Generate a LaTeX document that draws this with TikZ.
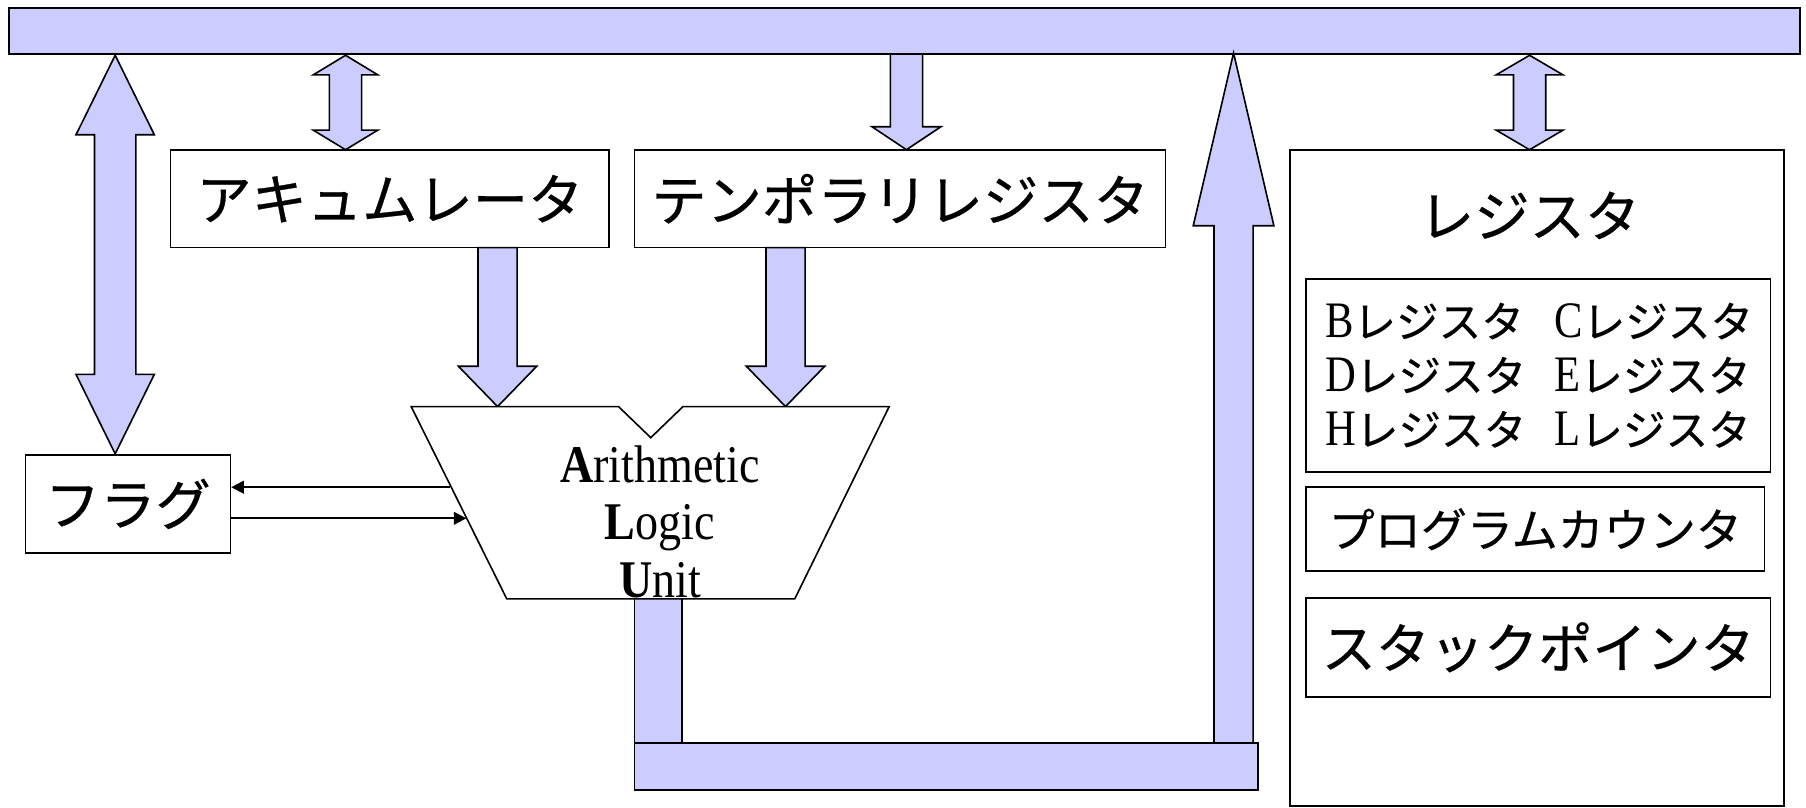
\documentclass[tikz,border=0pt]{standalone}
\usepackage{fontspec}
\usepackage{graphicx}
\newfontfamily\jp{Noto Sans CJK JP}[FakeBold=0.5]
\newfontfamily\tm{Liberation Serif}
\usetikzlibrary{fit,arrows.meta}
\definecolor{busblue}{HTML}{CCCCFF}
\tikzset{
  busfill/.style={fill=busblue, draw=black, line width=0.7pt, line join=miter},
  box/.style={draw=black, line width=0.7pt, fill=white, inner sep=0pt},
  thinarrow/.style={line width=0.8pt, -{Triangle[length=5.5pt,width=5.5pt]}},
  bigjp/.style={font=\jp\fontsize{24}{29}\selectfont, inner sep=0pt},
  midjp/.style={font=\jp\fontsize{20}{24}\selectfont, inner sep=0pt},
  regrow/.style={font=\fontsize{18.5}{22}\selectfont, inner sep=0pt, anchor=base west},
}
% double-headed vertical block arrow: centre x, top, bottom, shaft half, head half, head length
\newcommand{\dblarrow}[6]{%
  \filldraw[busfill] (#1,#2) -- ({#1+#5},{#2+#6}) -- ({#1+#4},{#2+#6})
    -- ({#1+#4},{#3-#6}) -- ({#1+#5},{#3-#6}) -- (#1,#3)
    -- ({#1-#5},{#3-#6}) -- ({#1-#4},{#3-#6}) -- ({#1-#4},{#2+#6})
    -- ({#1-#5},{#2+#6}) -- cycle;}
% downward block arrow
\newcommand{\dnarrow}[6]{%
  \filldraw[busfill] ({#1-#4},#2) -- ({#1-#4},{#3-#6}) -- ({#1-#5},{#3-#6})
    -- (#1,#3) -- ({#1+#5},{#3-#6}) -- ({#1+#4},{#3-#6}) -- ({#1+#4},#2) -- cycle;}
% upward block arrow: centre x, tip, base, shaft half, head half, head length
\newcommand{\uparr}[6]{%
  \filldraw[busfill] (#1,#2) -- ({#1+#5},{#2+#6}) -- ({#1+#4},{#2+#6})
    -- ({#1+#4},#3) -- ({#1-#4},#3) -- ({#1-#4},{#2+#6}) -- ({#1-#5},{#2+#6}) -- cycle;}
% register name: tall serif letter followed by katakana
\newcommand{\rg}[1]{\scalebox{1}[1.2]{\tm #1}{\jp レジスタ}}
\newcommand{\tall}[1]{\scalebox{1}[1.15]{#1}}
\begin{document}
\begin{tikzpicture}[x=0.5pt,y=-0.5pt]
\useasboundingbox (0,0) rectangle (1568,701);

% internal data bus
\draw[busfill] (8,7) rectangle (1563,47);

% boxes
\node[box, fit={(22,395) (200,480)}] (flag) {};
\node[box, fit={(148,130) (529,215)}] (acc) {};
\node[box, fit={(551,130) (1012,215)}] (tmp) {};
\node[box, fit={(1120,130) (1549,700)}] (regs) {};
\node[box, fit={(1134,242) (1537,410)}] (gp) {};
\node[box, fit={(1134,423) (1532,496)}] (pc) {};
\node[box, fit={(1134,519) (1537,605)}] (sp) {};

% block arrows between bus and units
\dblarrow{100}{48}{394}{18}{34}{69}
\dblarrow{300}{48}{130}{14}{28}{17}
\dblarrow{1328}{48}{130}{14}{29}{17}
\dnarrow{787}{47}{130}{14}{30}{20}
\dnarrow{432}{215}{353}{17}{34}{35}
\dnarrow{682}{215}{353}{17}{34}{35}

% ALU output path back to the bus
\fill[busblue] (551,519) rectangle (592,645);
\draw[line width=0.7pt] (551,519) -- (551,645) (592,519) -- (592,645);
\draw[busfill] (551,645) rectangle (1092,686);
\uparr{1071}{46}{645}{17}{35}{150}

% ALU
\draw[line width=0.7pt, fill=white, line join=miter]
  (357,353) -- (537,353) -- (565,380) -- (593,353) -- (772,353)
  -- (690,520) -- (440,520) -- cycle;
\node[align=center, inner sep=0pt, font=\tm\fontsize{20}{25}\selectfont] (alu) at (573,453)
  {\tall{\textbf{A}rithmetic}\\ \tall{\textbf{L}ogic}\\ \tall{\textbf{U}nit}};
\coordinate (aluin) at (405,450);
\coordinate (aluout) at (391,423);

% flag connections
\draw[thinarrow] (aluout) -- (flag.east |- aluout);
\draw[thinarrow] (flag.east |- aluin) -- (aluin);

% labels
\node[bigjp] at (flag.center) {フラグ};
\node[bigjp] at (acc.center) {アキュムレータ};
\node[bigjp] at (tmp.center) {テンポラリレジスタ};
\node[bigjp] (regtitle) at (1328,187) {レジスタ};
\node[regrow] at (1150,293) {\rg{B}};
\node[regrow] at (1349,293) {\rg{C}};
\node[regrow] at (1150,340) {\rg{D}};
\node[regrow] at (1349,340) {\rg{E}};
\node[regrow] at (1150,387) {\rg{H}};
\node[regrow] at (1349,387) {\rg{L}};
\node[midjp] at (pc.center) {プログラムカウンタ};
\node[bigjp, font=\jp\fontsize{23.5}{28}\selectfont] at (sp.center) {スタックポインタ};
\end{tikzpicture}
\end{document}
